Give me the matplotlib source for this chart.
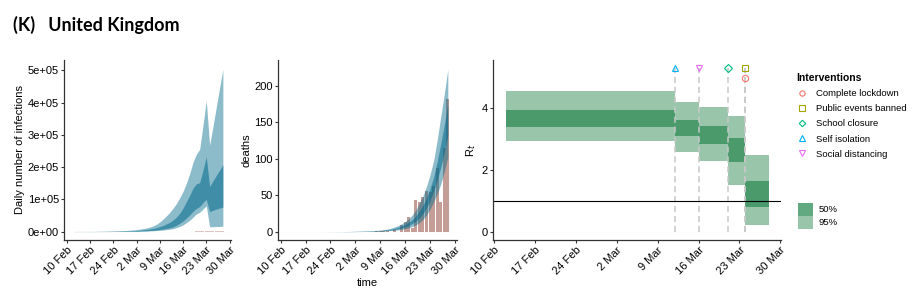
import matplotlib
matplotlib.use('Agg')
import matplotlib.pyplot as plt
import numpy as np
import pandas as pd
from matplotlib.patches import Patch
from matplotlib.lines import Line2D

plt.rcParams['font.family'] = ['Liberation Sans', 'DejaVu Sans']

# ---------------- data ----------------
title = "(K)   United Kingdom"
tick_dates = ['2020-02-10', '2020-02-17', '2020-02-24', '2020-03-02',
              '2020-03-09', '2020-03-16', '2020-03-23', '2020-03-30']
tick_labels = ['10 Feb', '17 Feb', '24 Feb', '2 Mar', '9 Mar', '16 Mar', '23 Mar', '30 Mar']

# daily infections (thousands), 12 Feb .. 28 Mar
inf_start, inf_end = '2020-02-12', '2020-03-28'
inf_u95 = [0.5, 0.55, 0.6, 0.65, 0.7, 0.75, 0.8, 0.9, 1.0, 1.1, 1.3, 1.5, 1.8, 2.1, 2.5, 3.0, 3.6, 4.4,
           5.3, 6.4, 7.8, 9.5, 11.5, 14, 18, 23, 30, 39, 49, 60, 73, 87, 105, 125, 150, 180, 215, 240,
           255, 330, 406, 268, 325, 385, 445, 503]
inf_u50 = [0.15, 0.17, 0.19, 0.21, 0.24, 0.27, 0.31, 0.36, 0.42, 0.5, 0.6, 0.72, 0.87, 1.05, 1.3, 1.55,
           1.9, 2.3, 2.8, 3.5, 4.3, 5.3, 6.5, 8, 10, 12.5, 15.5, 19, 24, 29, 36, 45, 57, 73, 93, 112,
           135, 148, 152, 190, 232, 140, 157, 174, 190, 207]
inf_l50 = [0.05, 0.06, 0.07, 0.08, 0.09, 0.1, 0.12, 0.14, 0.17, 0.2, 0.24, 0.29, 0.35, 0.43, 0.53, 0.65,
           0.8, 1.0, 1.2, 1.5, 1.85, 2.3, 2.8, 3.5, 4.3, 5.3, 6.5, 8, 10, 12, 15, 20, 26, 33, 42, 52,
           63, 72, 78, 90, 100, 62, 66, 70, 73, 76]
inf_l95 = [0.02, 0.025, 0.03, 0.035, 0.04, 0.05, 0.06, 0.07, 0.09, 0.11, 0.14, 0.17, 0.21, 0.26, 0.32,
           0.39, 0.48, 0.6, 0.73, 0.9, 1.1, 1.4, 1.7, 2.1, 2.6, 3.2, 3.9, 4.8, 6, 7.5, 9.5, 12.5, 16,
           21, 28, 35, 45, 55, 60, 70, 80, 15, 15, 16, 16, 17]

# reported cases, 1 Mar .. 28 Mar
case_start, case_end = '2020-03-01', '2020-03-28'
cases = [13, 4, 11, 34, 29, 48, 45, 69, 43, 67, 48, 61, 83, 134, 117, 208, 342, 251, 152, 407,
         676, 643, 714, 1035, 967, 1427, 1452, 2546]

# estimated deaths, 20 Feb .. 28 Mar
dth_start, dth_end = '2020-02-20', '2020-03-28'
dth_u95 = [0.05, 0.07, 0.09, 0.12, 0.15, 0.2, 0.25, 0.3, 0.38, 0.47, 0.58, 0.7, 0.85, 1.0, 1.2, 1.4,
           1.7, 2.0, 2.4, 3.0, 3.8, 4.8, 6.5, 8.5, 11, 14, 18, 23, 30, 39, 49, 62, 78, 97, 125, 157,
           188, 222]
dth_u50 = [0.04, 0.05, 0.07, 0.09, 0.11, 0.15, 0.19, 0.22, 0.28, 0.35, 0.43, 0.52, 0.63, 0.74, 0.88,
           1.04, 1.26, 1.5, 1.8, 2.24, 2.84, 3.56, 4.74, 6.14, 7.92, 10.1, 13.0, 16.7, 21.8, 28.4,
           36.2, 46.4, 59.2, 74.6, 95.8, 120, 146, 174]
dth_l50 = [0.03, 0.04, 0.05, 0.06, 0.08, 0.11, 0.13, 0.16, 0.2, 0.25, 0.3, 0.36, 0.44, 0.51, 0.6, 0.73,
           0.88, 1.06, 1.28, 1.58, 2.0, 2.48, 3.2, 4.08, 5.23, 6.7, 8.6, 11.2, 14.6, 19.1, 25, 32.8,
           42.8, 55, 70.3, 88, 108.5, 132]
dth_l95 = [0.02, 0.03, 0.035, 0.045, 0.06, 0.075, 0.09, 0.11, 0.14, 0.17, 0.2, 0.25, 0.3, 0.35, 0.4,
           0.5, 0.6, 0.75, 0.9, 1.1, 1.4, 1.7, 2.1, 2.6, 3.3, 4.3, 5.5, 7.2, 9.4, 12.5, 17, 23, 31,
           41, 52, 65, 82, 102]

# reported deaths, 8 Mar .. 28 Mar
rep_start, rep_end = '2020-03-08', '2020-03-28'
deaths = [1, 1, 1, 1, 0, 3, 0, 10, 14, 20, 5, 43, 41, 48, 56, 54, 62, 87, 41, 115, 181]

# R_t piecewise constant
rt_edges = ['2020-02-12', '2020-03-12', '2020-03-16', '2020-03-21', '2020-03-24', '2020-03-28']
rt_l95 = [2.95, 2.59, 2.28, 1.52, 0.21]
rt_u95 = [4.58, 4.22, 4.04, 3.74, 2.48]
rt_l50 = [3.39, 3.10, 2.84, 2.25, 0.81]
rt_u50 = [3.95, 3.63, 3.43, 3.05, 1.65]

interventions = ['Complete lockdown', 'Public events banned', 'School closure',
                 'Self isolation', 'Social distancing']
intervention_dates = ['2020-03-24', '2020-03-24', '2020-03-21', '2020-03-12', '2020-03-16']
intervention_markers = ['o', 's', 'D', '^', 'v']
intervention_colors = ['#F8766D', '#A3A500', '#00BF7D', '#00B0F6', '#E76BF3']

# ---------------- figure ----------------
W, H = 922, 304
fig = plt.figure(figsize=(W / 100, H / 100), dpi=100)

def ax_at(x0, x1, y0, y1):
    return fig.add_axes([x0 / W, 1 - y1 / H, (x1 - x0) / W, (y1 - y0) / H])

ax1 = ax_at(64.3, 230.5, 60, 240)
ax2 = ax_at(277.7, 456.7, 60, 240)
ax3 = ax_at(493.3, 780.7, 60, 240)

blue = '#00688B'
bar_col = '#8B3E2F'
spine_col = '#333333'

d_inf = pd.date_range(inf_start, inf_end)
d_case = pd.date_range(case_start, case_end)
d_dth = pd.date_range(dth_start, dth_end)
d_rep = pd.date_range(rep_start, rep_end)
t0 = pd.Timestamp('2020-02-10')

# panel 1: infections
ax1.bar(d_case, cases, width=0.9, color=bar_col, alpha=0.3, linewidth=0)
ax1.fill_between(d_inf, np.array(inf_l95) * 1e3, np.array(inf_u95) * 1e3, color=blue, alpha=0.45, linewidth=0)
ax1.fill_between(d_inf, np.array(inf_l50) * 1e3, np.array(inf_u50) * 1e3, color=blue, alpha=0.55, linewidth=0)
ax1.set_ylim(-2.6e4, 5.32e5)
ax1.set_yticks([0, 1e5, 2e5, 3e5, 4e5, 5e5])
ax1.set_yticklabels(['0e+00', '1e+05', '2e+05', '3e+05', '4e+05', '5e+05'])
ax1.set_xlim(t0 - pd.Timedelta(days=0.82), t0 + pd.Timedelta(days=49.3))
ax1.set_ylabel('Daily number of infections', fontsize=8, labelpad=2)

# panel 2: deaths
ax2.bar(d_rep, deaths, width=0.85, color=bar_col, alpha=0.5, linewidth=0)
ax2.fill_between(d_dth, dth_l95, dth_u95, color=blue, alpha=0.45, linewidth=0)
ax2.fill_between(d_dth, dth_l50, dth_u50, color=blue, alpha=0.55, linewidth=0)
ax2.set_ylim(-11.2, 235)
ax2.set_yticks([0, 50, 100, 150, 200])
ax2.set_xlim(t0 - pd.Timedelta(days=0.84), t0 + pd.Timedelta(days=49.5))
ax2.set_ylabel('deaths', fontsize=8, labelpad=2)
ax2.set_xlabel('time', fontsize=8, labelpad=1)

# panel 3: R_t
edges = pd.to_datetime(rt_edges)
starts = edges[:-1]
widths = (edges[1:] - edges[:-1]).days
light_g = '#99C5AB'
dark_g = '#4A9A6B'
ax3.bar(starts, np.array(rt_u95) - np.array(rt_l95), bottom=rt_l95, width=widths,
        align='edge', color=light_g, linewidth=0)
ax3.bar(starts, np.array(rt_u50) - np.array(rt_l50), bottom=rt_l50, width=widths,
        align='edge', color=dark_g, linewidth=0)
ax3.axhline(1, color='black', linewidth=0.8)
seen = {}
for name, ds, mk, col in zip(interventions, intervention_dates, intervention_markers, intervention_colors):
    dt = pd.Timestamp(ds)
    ax3.vlines(dt, 0, 5.32, colors='#c8c8c8', linewidth=1.1, linestyles=(0, (4, 2.5)), zorder=1)
for name, ds, mk, col in zip(interventions[::-1], intervention_dates[::-1],
                             intervention_markers[::-1], intervention_colors[::-1]):
    dt = pd.Timestamp(ds)
    k = seen.get(ds, 0)
    seen[ds] = k + 1
    ax3.plot([dt], [5.32 - 0.32 * k], marker=mk, markersize=4.5 if mk != 'D' else 3.8,
             markerfacecolor='none', markeredgecolor=col, markeredgewidth=0.8, zorder=5,
             clip_on=False)
ax3.set_ylim(-0.27, 5.57)
ax3.set_yticks([0, 2, 4])
ax3.set_xlim(t0 - pd.Timedelta(days=0.17), t0 + pd.Timedelta(days=49.07))
ax3.set_ylabel('R$_t$', fontsize=8, labelpad=3)

for ax in (ax1, ax2, ax3):
    ax.set_xticks(pd.to_datetime(tick_dates))
    ax.set_xticklabels(tick_labels, rotation=45, ha='right', va='top', rotation_mode='anchor')
    for s in ('top', 'right'):
        ax.spines[s].set_visible(False)
    for s in ('left', 'bottom'):
        ax.spines[s].set_color(spine_col)
        ax.spines[s].set_linewidth(0.9)
    ax.tick_params(axis='both', length=2.2, width=0.8, color=spine_col, labelsize=8,
                   labelcolor='black', pad=1.5)
    ax.set_facecolor('none')

# title
fig.text(13 / W, 1 - 25 / H, title, fontsize=13, fontweight='bold', family=['Lato', 'DejaVu Sans'],
         ha='left', va='center')

# legends
handles = [Line2D([], [], linestyle='none', marker=mk, markersize=3.8 if mk != 'D' else 3.3,
                  markerfacecolor='none', markeredgecolor=col, markeredgewidth=0.8)
           for mk, col in zip(intervention_markers, intervention_colors)]
leg1 = fig.legend(handles, interventions, title='Interventions', loc='upper left',
                  bbox_to_anchor=(790 / W, 1 - 66 / H), frameon=False, fontsize=6.8,
                  title_fontsize=7.5, handlelength=1.2, handletextpad=0.9, labelspacing=0.66,
                  alignment='left', borderpad=0.2)
leg1.get_title().set_fontweight('bold')

phandles = [Patch(facecolor='#62A880', edgecolor='none'), Patch(facecolor=light_g, edgecolor='none')]
leg2 = fig.legend(phandles, ['50%', '95%'], loc='upper left', bbox_to_anchor=(791 / W, 1 - 196 / H),
                  frameon=False, fontsize=6.8, handlelength=1.65, handleheight=1.75,
                  handletextpad=0.55, labelspacing=0.02, borderpad=0.2)

fig.savefig('out.png', dpi=100)
